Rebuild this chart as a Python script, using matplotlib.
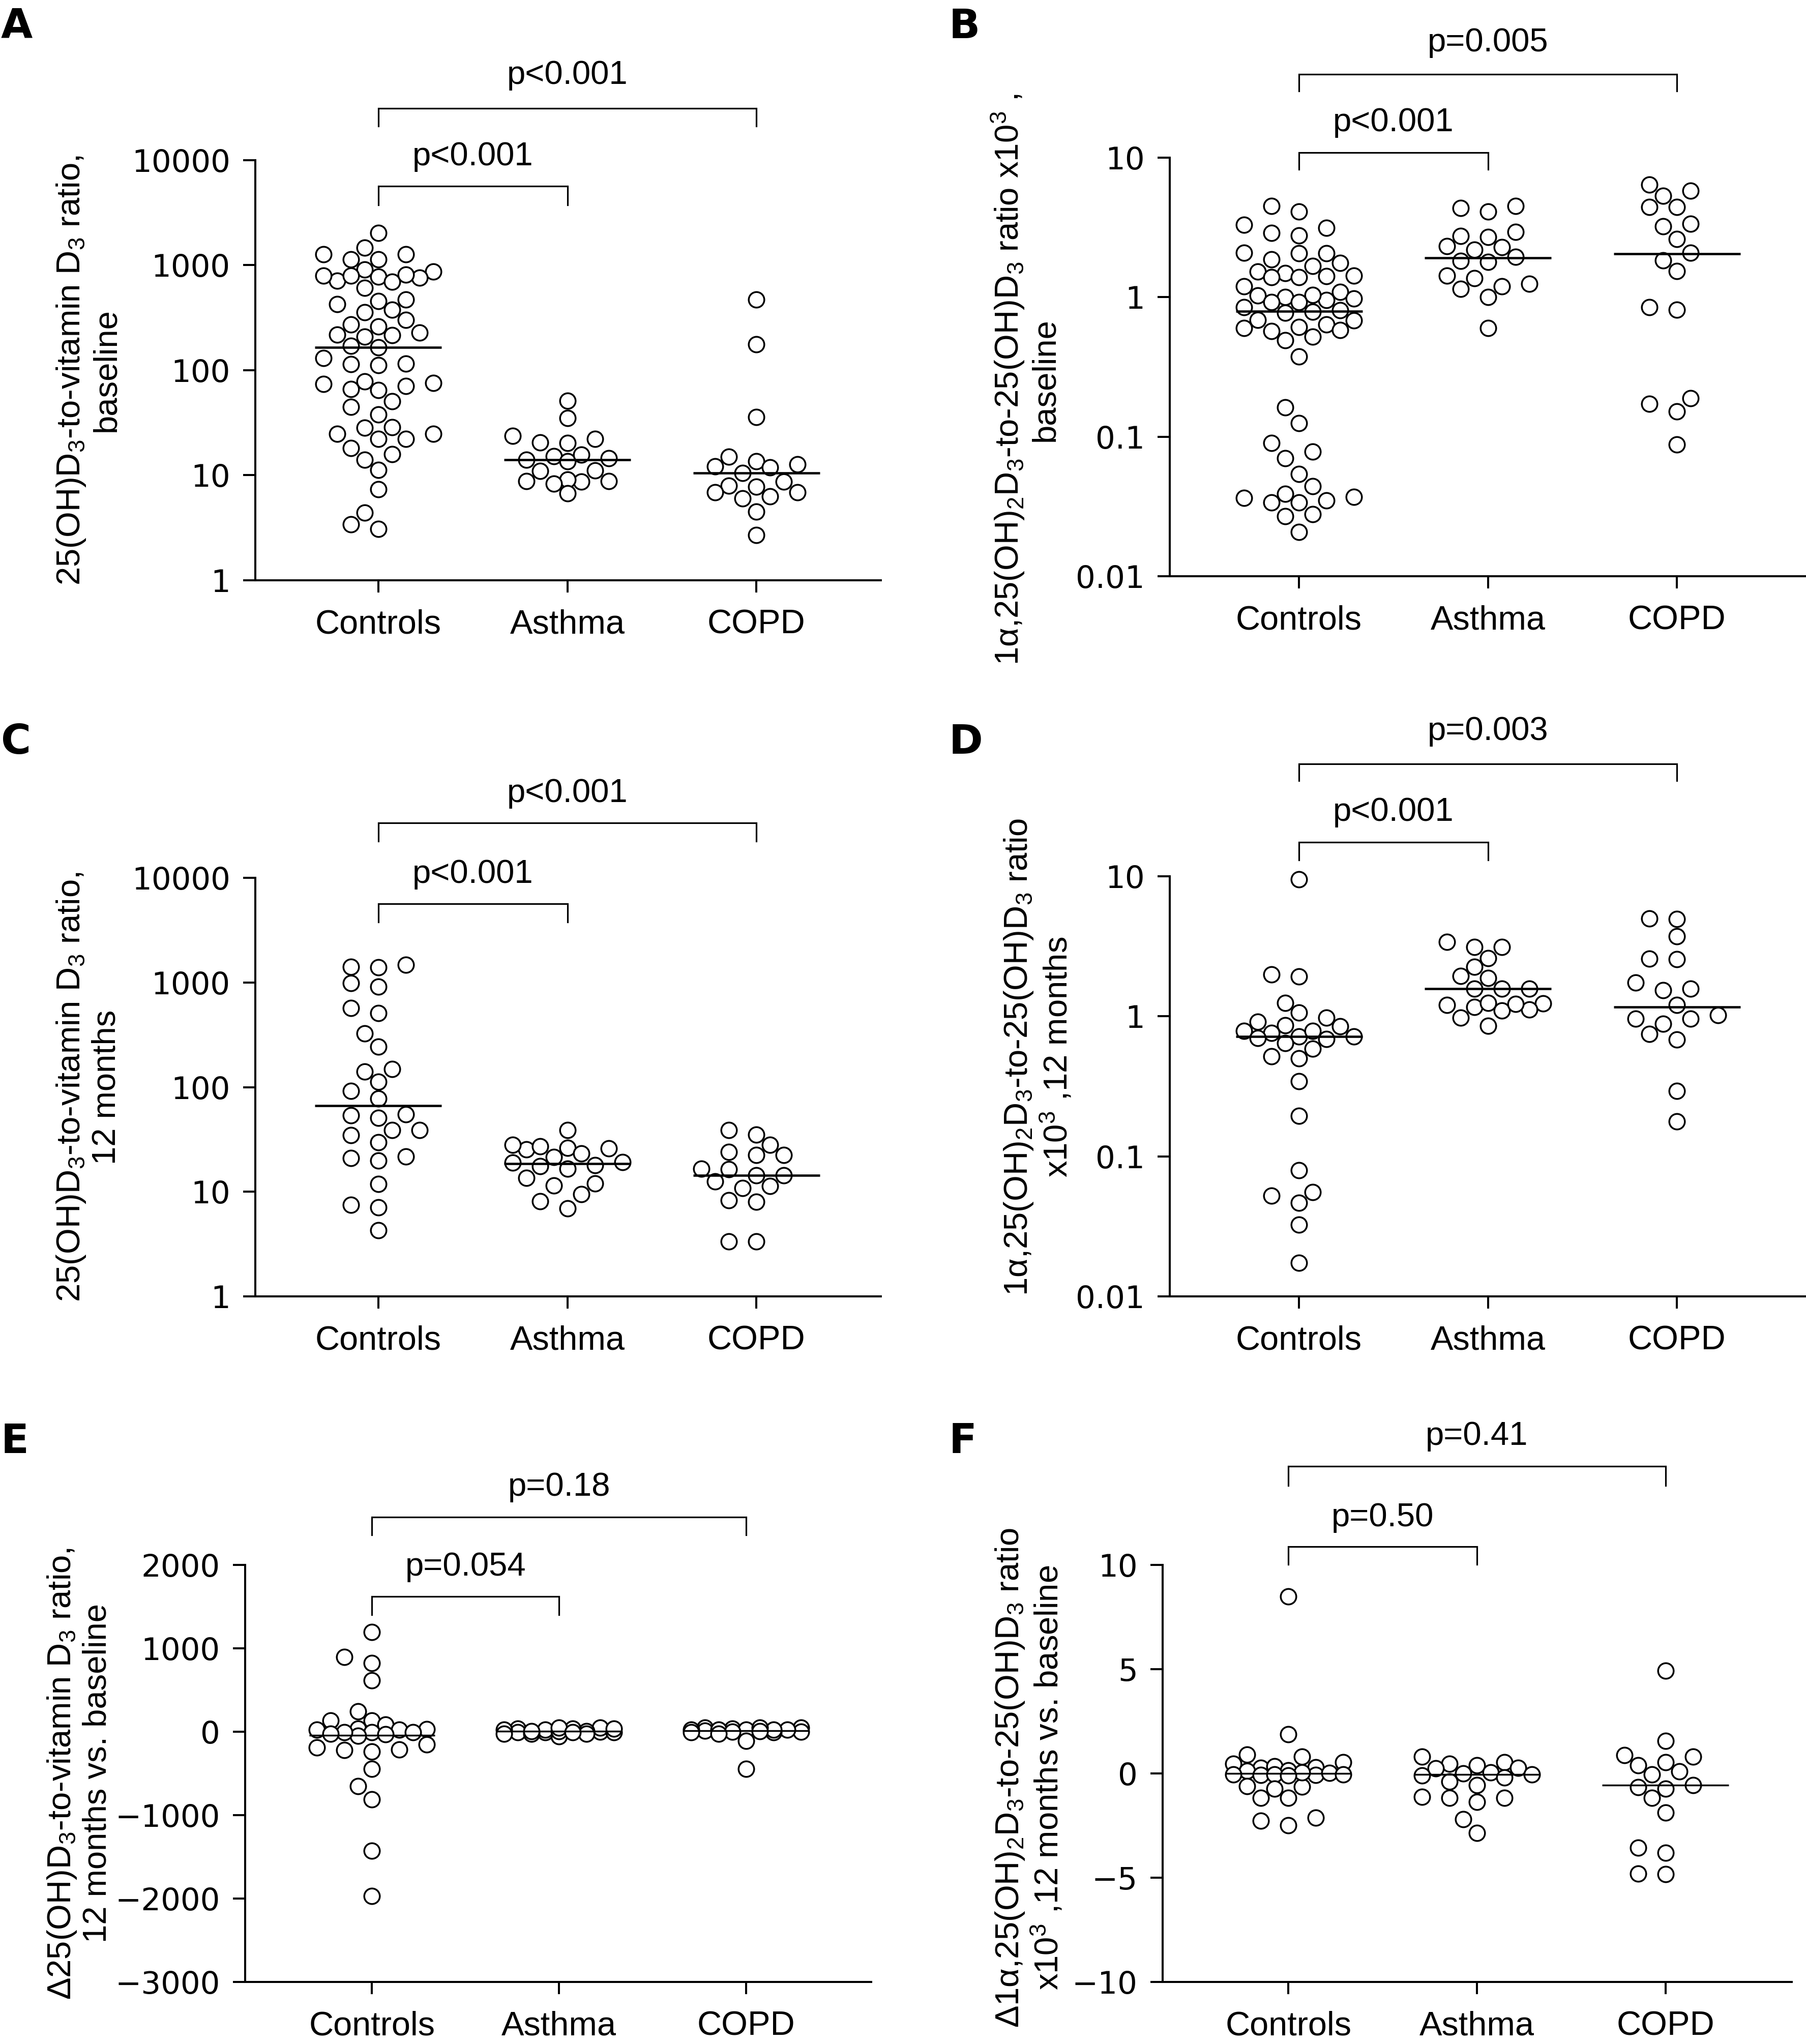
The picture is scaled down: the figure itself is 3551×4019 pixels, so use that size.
import numpy as np
import matplotlib
matplotlib.use("Agg")
import matplotlib.pyplot as plt
from matplotlib.ticker import NullLocator
from matplotlib.transforms import blended_transform_factory

plt.rcParams['mathtext.default'] = 'regular'

groups = ['Controls', 'Asthma', 'COPD']

# A: 25(OH)D3-to-vitamin D3 ratio, baseline
a_controls = [2020, 1470, 1140, 1140, 1275, 1275, 780, 708, 694, 867, 757, 913, 792, 818,
              800, 612, 473, 458, 426, 378, 355, 302, 272, 261, 227, 216, 218, 209, 165,
              170, 130, 112, 115, 114, 78, 74, 66, 65, 71, 76, 50.5, 44.6, 38, 28.8, 24.7,
              24.7, 22.3, 22.3, 28.3, 18.1, 15.9, 14.1, 11.2, 7.4, 4.4, 3.1, 3.4]
a_asthma = [51, 35, 20.6, 23.8, 22.2, 20.3, 14.0, 14.5, 15.2, 13.6, 15.7, 11.0, 11.1, 8.7,
            8.8, 9.1, 8.8, 8.3, 6.7]
a_copd = [471, 177, 35.8, 12.2, 13.6, 15.1, 12.7, 11.9, 10.5, 7.8, 6.9, 8.0, 8.7, 6.9, 6.3,
          6.0, 4.5, 2.7]
a_medians = [166, 14.0, 10.5]

# B: 1a,25(OH)2D3-to-25(OH)D3 ratio x10^3, baseline
b_controls = [4.12, 4.49, 2.78, 3.29, 2.89, 3.13, 1.68, 1.87, 1.76, 2.06, 2.08, 2.06, 1.52,
              1.49, 1.39, 1.39, 1.43, 1.41, 1.20, 1.0, 1.03, 1.09, 0.92, 0.95, 0.98, 1.04,
              0.92, 0.845, 0.787, 0.77, 0.805, 0.69, 0.64, 0.61, 0.68, 0.58, 0.57, 0.60,
              0.52, 0.49, 0.376, 0.162, 0.125, 0.090, 0.070, 0.078, 0.054, 0.0443, 0.0365,
              0.0348, 0.0337, 0.037, 0.0337, 0.0389, 0.0278, 0.0269, 0.0208]
b_asthma = [4.12, 4.49, 4.34, 2.74, 2.71, 2.94, 2.29, 2.33, 2.19, 1.79, 1.82, 1.94, 1.37,
            1.43, 1.25, 1.15, 1.20, 1.0, 0.60]
b_copd = [6.43, 5.79, 5.31, 4.44, 4.44, 3.21, 3.37, 2.61, 2.08, 1.83, 1.54, 0.81, 0.845,
          0.152, 0.189, 0.172, 0.088]
b_medians = [0.79, 1.91, 2.05]

# C: 25(OH)D3-to-vitamin D3 ratio, 12 months
c_controls = [1413, 1393, 1468, 908, 981, 511, 570, 327, 243, 141, 149, 113, 92, 78, 51, 55,
              53.5, 39, 34.8, 38.8, 29.6, 19.8, 21.8, 21.1, 11.9, 7.1, 7.5, 4.3]
c_asthma = [38.8, 25.3, 26.4, 28.2, 23.3, 27.3, 26.1, 21.5, 16.6, 19.2, 18.0, 17.5, 19.0,
            13.5, 11.5, 12.0, 9.5, 8.1, 6.9]
c_copd = [35.2, 38.8, 28.2, 22.5, 22.5, 24.0, 16.6, 14.4, 16.4, 14.4, 12.5, 11.4, 10.9, 8.0,
          8.3, 3.35, 3.35]
c_medians = [66.8, 18.6, 14.4]

# D: 1a,25(OH)2D3-to-25(OH)D3 ratio x10^3, 12 months
d_controls = [9.53, 1.93, 1.99, 1.25, 0.976, 0.866, 1.06, 0.917, 0.846, 0.715, 0.688, 0.76,
              0.787, 0.698, 0.715, 0.787, 0.643, 0.585, 0.499, 0.516, 0.343, 0.195, 0.0798,
              0.0554, 0.0464, 0.0523, 0.0324, 0.0174]
d_asthma = [3.40, 3.13, 3.13, 2.61, 2.26, 1.94, 1.87, 1.58, 1.58, 1.58, 1.17, 1.24, 1.21,
            1.12, 1.10, 1.25, 1.23, 0.976, 0.858]
d_copd = [4.99, 4.94, 3.74, 2.55, 2.57, 1.74, 1.54, 1.58, 1.21, 0.962, 0.962, 1.02, 0.887,
          0.681, 0.75, 0.294, 0.178]
d_medians = [0.72, 1.58, 1.17]

# E: change in 25(OH)D3-to-vitamin D3 ratio, 12 months vs. baseline
e_controls = [1193, 825, 896, 613, 245, 132, 132, 85, 33, 24, 38, 24, -9, -33, -47, -9, -9,
              -212, -151, -222, -236, -189, -448, -651, -811, -1425, -1967, -24]
e_asthma = [0, 38, -9, 47, -57, 24, -9, 9, -9, 24, 9, -24, 9, 38, -24, 38, 47, -24, -9]
e_copd = [38, 47, 24, -108, 47, 14, 24, 24, 0, 24, -9, 24, 47, -448, 0, -24, -9, 9]
e_medians = [-45, 5, 10]

# F: change in 1a,25(OH)2D3-to-25(OH)D3 ratio x10^3, 12 months vs. baseline
f_controls = [8.49, 1.88, 0.90, 0.81, 0.30, 0.28, 0.53, 0.47, 0.34, 0.15, 0.11, -0.08, 0.02,
              -0.08, -0.04, -0.04, -0.04, -0.60, -0.73, -0.64, -1.17, -1.17, -2.49, -2.11,
              -2.26, 0.06, -0.10]
f_asthma = [0.81, 0.53, 0.47, 0.28, 0.24, 0.40, 0.06, -0.04, 0.0, -0.09, -0.19, -0.38,
            -0.56, -1.17, -1.17, -1.13, -1.36, -2.2, -2.86]
f_copd = [4.92, 1.56, 0.81, 0.53, 0.87, 0.40, 0.09, -0.04, -0.73, -0.56, -0.66, -1.17,
          -1.88, -3.80, -3.56, -4.84, -4.80]
f_medians = [0.0, -0.05, -0.56]

# p-values: (Controls vs Asthma, Controls vs COPD)
a_pvals = ['p<0.001', 'p<0.001']
b_pvals = ['p<0.001', 'p=0.005']
c_pvals = ['p<0.001', 'p<0.001']
d_pvals = ['p<0.001', 'p=0.003']
e_pvals = ['p=0.054', 'p=0.18']
f_pvals = ['p=0.50', 'p=0.41']

log_ticks_big = [1, 10, 100, 1000, 10000]
log_ticks_small = [0.01, 0.1, 1, 10]
e_ticks = [-3000, -2000, -1000, 0, 1000, 2000]
f_ticks = [-10, -5, 0, 5, 10]

W, H = 3551, 4019
DPI = 100
TEXT_FONT = 'Liberation Sans'
TICK_FONT = 'DejaVu Sans'

fig = plt.figure(figsize=(W / DPI, H / DPI), dpi=DPI)


def swarm_x(ax, values, center, step=27, min_dist=32, max_col=4):
    """Simple column beeswarm done in pixel space."""
    values = np.asarray(values, dtype=float)
    pts = ax.transData.transform(np.column_stack([np.full(len(values), center), values]))
    ys = pts[:, 1]
    px_per_unit = ax.transData.transform((1, 1))[0] - ax.transData.transform((0, 1))[0]
    cols = [0]
    for k in range(1, max_col + 1):
        cols += [-k, k]
    placed = []
    offsets = np.zeros(len(values))
    for i in np.argsort(ys):
        best, best_d = 0, -1.0
        for c in cols:
            x = c * step
            if placed:
                p = np.array(placed)
                d = np.min(np.hypot(p[:, 0] - x, p[:, 1] - ys[i]))
            else:
                d = np.inf
            if d >= min_dist:
                best = x
                break
            if d > best_d:
                best, best_d = x, d
        placed.append((best, ys[i]))
        offsets[i] = best / px_per_unit
    return center + offsets


def panel(box, xlim, ylim, log, data, medians, ticks, ylabel, label_xy, letter, letter_xy,
          pvals, br, med_lw=3.3):
    left, right, top, bottom = box
    ax = fig.add_axes([left / W, 1 - bottom / H, (right - left) / W, (bottom - top) / H])
    if log:
        ax.set_yscale('log')
    ax.set_xlim(*xlim)
    ax.set_ylim(*ylim)

    if log:
        labels = [f'{t:g}' for t in ticks]
    else:
        labels = [f'{t:g}'.replace('-', '\u2212') for t in ticks]
    ax.set_yticks(ticks, labels=labels, fontsize=44, fontfamily=TICK_FONT)
    ax.yaxis.set_minor_locator(NullLocator())
    ax.set_xticks([0, 1, 2], labels=groups, fontsize=48, fontfamily=TEXT_FONT)

    for s in ['top', 'right']:
        ax.spines[s].set_visible(False)
    for s in ['left', 'bottom']:
        ax.spines[s].set_linewidth(2.9)
    ax.tick_params(axis='both', length=17.5, width=2.9, color='black')
    ax.tick_params(axis='y', pad=18)
    ax.tick_params(axis='x', pad=23)

    for i, vals in enumerate(data):
        xs = swarm_x(ax, vals, i)
        ax.plot(xs, vals, linestyle='none', marker='o', ms=22, mfc='white', mec='black',
                mew=2.5, zorder=3, clip_on=False)
        ax.hlines(medians[i], i - 0.335, i + 0.335, color='black', lw=med_lw, zorder=4)

    # significance brackets
    trans = blended_transform_factory(ax.transData, ax.transAxes)
    for x_end, (line_y, tick_y, text_y), txt in zip([1, 2], br, pvals):
        ax.plot([0, 0, x_end, x_end], [tick_y, line_y, line_y, tick_y], color='black',
                lw=2.3, transform=trans, clip_on=False, solid_joinstyle='miter')
        ax.text(x_end / 2, text_y, txt, transform=trans, ha='center', va='center',
                fontsize=47, fontfamily=TEXT_FONT)

    ax.text(label_xy[0], label_xy[1], ylabel, transform=ax.transAxes, rotation=90,
            ha='center', va='center', multialignment='center', fontsize=47,
            fontfamily=TEXT_FONT, linespacing=1.15)
    fig.text(letter_xy[0] / W, 1 - letter_xy[1] / H, letter, ha='left', va='top',
             fontsize=58, fontweight='bold', fontfamily=TICK_FONT)
    return ax


panel((502, 1732, 315, 1141), (-0.651, 2.659), (1, 10000), True,
      [a_controls, a_asthma, a_copd], a_medians, log_ticks_big,
      '25(OH)D$_3$-to-vitamin D$_3$ ratio,\nbaseline', (-0.267, 0.5), 'A', (2, 14),
      a_pvals, [(0.938, 0.894, 1.009), (1.124, 1.081, 1.202)])

panel((2300, 3549, 310, 1133), (-0.684, 2.678), (0.01, 10), True,
      [b_controls, b_asthma, b_copd], b_medians, log_ticks_small,
      '1\u03b1,25(OH)$_2$D$_3$-to-25(OH)D$_3$ ratio x10$^3$ ,\nbaseline', (-0.228, 0.47),
      'B', (1866, 14),
      b_pvals, [(1.012, 0.972, 1.084), (1.199, 1.159, 1.274)])

panel((502, 1732, 1726, 2549), (-0.651, 2.659), (1, 10000), True,
      [c_controls, c_asthma, c_copd], c_medians, log_ticks_big,
      '25(OH)D$_3$-to-vitamin D$_3$ ratio,\n12 months', (-0.267, 0.5), 'C', (2, 1421),
      c_pvals, [(0.938, 0.894, 1.009), (1.131, 1.087, 1.202)])

panel((2300, 3549, 1723, 2549), (-0.684, 2.678), (0.01, 10), True,
      [d_controls, d_asthma, d_copd], d_medians, log_ticks_small,
      '1\u03b1,25(OH)$_2$D$_3$-to-25(OH)D$_3$ ratio\nx10$^3$ ,12 months', (-0.207, 0.57),
      'D', (1866, 1421),
      d_pvals, [(1.081, 1.039, 1.152), (1.267, 1.227, 1.345)])

panel((482, 1713, 3077, 3897), (-0.677, 2.667), (-3000, 2000), False,
      [e_controls, e_asthma, e_copd], e_medians, e_ticks,
      '\u039425(OH)D$_3$-to-vitamin D$_3$ ratio,\n12 months vs. baseline', (-0.265, 0.5),
      'E', (2, 2796),
      e_pvals, [(0.925, 0.881, 0.995), (1.115, 1.072, 1.186)], med_lw=2.5)

panel((2286, 3523, 3077, 3897), (-0.667, 2.67), (-10, 10), False,
      [f_controls, f_asthma, f_copd], f_medians, f_ticks,
      '\u03941\u03b1,25(OH)$_2$D$_3$-to-25(OH)D$_3$ ratio\nx10$^3$ ,12 months vs. baseline',
      (-0.212, 0.49), 'F', (1866, 2796),
      f_pvals, [(1.044, 1.001, 1.114), (1.237, 1.19, 1.308)], med_lw=2.5)

fig.savefig('out.png', dpi=DPI)
